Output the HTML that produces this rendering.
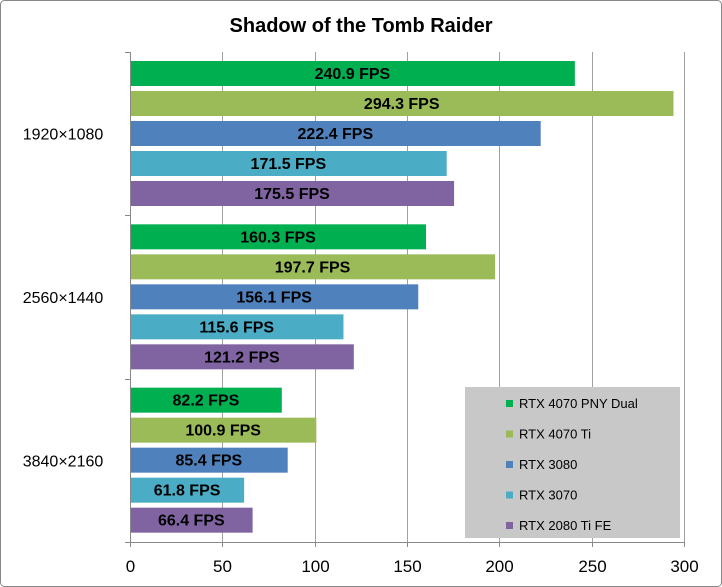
<!DOCTYPE html>
<html><head><meta charset="utf-8"><style>
body{margin:0;background:#fff;}
svg{display:block;font-family:"Liberation Sans",sans-serif;}
</style></head><body>
<svg id="c" width="722" height="587">
<rect x="0.5" y="0.5" width="721" height="586" rx="4" fill="#fff" stroke="#888"/>
<text x="361" y="32" text-anchor="middle" font-size="20" font-weight="bold" fill="#000">Shadow of the Tomb Raider</text>
<g id="grid"></g><g id="bars"></g><g id="axes"></g>
<g>
<rect x="465" y="387" width="215" height="151" fill="#c8c8c8"/>
<g id="leg"></g>
</g>
</svg>
<script>
const categories=["1920×1080","2560×1440","3840×2160"];
const seriesNames=["RTX 4070 PNY Dual","RTX 4070 Ti","RTX 3080","RTX 3070","RTX 2080 Ti FE"];
const seriesColors=["#00b050","#9bbb59","#4f81bd","#4bacc6","#8064a2"];
const s4070pny=[240.9,160.3,82.2];
const s4070ti=[294.3,197.7,100.9];
const s3080=[222.4,156.1,85.4];
const s3070=[171.5,115.6,61.8];
const s2080ti=[175.5,121.2,66.4];
const xTicks=[0,50,100,150,200,250,300];
const series=[s4070pny,s4070ti,s3080,s3070,s2080ti];
const NS="http://www.w3.org/2000/svg";
const x0=130,x1=684,yTop=52,yBot=542,xMax=300;
const X=v=>x0+v/xMax*(x1-x0);
const gh=(yBot-yTop)/categories.length;
function mk(t,a,p){const e=document.createElementNS(NS,t);for(const k in a)e.setAttribute(k,a[k]);p.appendChild(e);return e;}
const grid=document.getElementById('grid'),bars=document.getElementById('bars'),axes=document.getElementById('axes'),leg=document.getElementById('leg');
xTicks.forEach(t=>{
 const x=Math.round(X(t))+0.5;
 if(t>0){const l=mk('line',{x1:x,x2:x,y1:yTop,y2:yBot,stroke:'#a0a0a0'},grid);
 
 }
 const tk=mk('line',{x1:x,x2:x,y1:yBot,y2:yBot+5,stroke:'#888'},axes);
 
 
 const tx=mk('text',{x:x,y:yBot+30,'text-anchor':'middle','font-size':'17',fill:'#000'},axes);
 tx.textContent=t;
 
 
});
categories.forEach((c,i)=>{
 const gy=yTop+i*gh;
 const tx=mk('text',{x:63,y:gy+gh/2+6,'text-anchor':'middle','font-size':'16',fill:'#000'},axes);
 tx.textContent=c;
 
 
 series.forEach((s,j)=>{
  const y=gy+9+j*30;
  const r=mk('rect',{x:x0,y:y,width:X(s[i])-x0,height:25,fill:seriesColors[j]},bars);
  
  
  const lt=mk('text',{x:(x0+X(s[i]))/2,y:y+18,'text-anchor':'middle','font-size':'16','font-weight':'bold',fill:'#000'},bars);
  lt.textContent=s[i].toFixed(1)+' FPS';
  
  
 });
});
for(let i=0;i<=categories.length;i++){
 const y=Math.round(yTop+i*gh)+0.5;
 const tk=mk('line',{x1:x0-5,x2:x0,y1:y,y2:y,stroke:'#888'},axes);
 
 
}
const ya=mk('line',{x1:x0+0.5,x2:x0+0.5,y1:yTop,y2:yBot,stroke:'#888'},axes);


const xa=mk('line',{x1:x0,x2:x1+1,y1:yBot+0.5,y2:yBot+0.5,stroke:'#888'},axes);


seriesNames.forEach((n,j)=>{
 const y=403+j*30.5;
 const r=mk('rect',{x:506,y:y-3,width:7,height:7,fill:seriesColors[j]},leg);
 
 
 const t=mk('text',{x:519,y:y+5,'font-size':'13',fill:'#000'},leg);
 t.textContent=n;
 
 
});
</script>
</body></html>
